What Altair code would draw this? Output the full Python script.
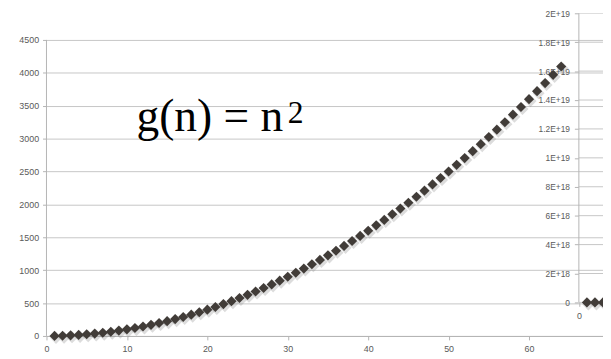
import altair as alt
import pandas as pd

# ---- data ----
N = list(range(1, 65))
G = [1, 4, 9, 16, 25, 36, 49, 64, 81, 100, 121, 144, 169, 196, 225, 256,
     289, 324, 361, 400, 441, 484, 529, 576, 625, 676, 729, 784, 841, 900,
     961, 1024, 1089, 1156, 1225, 1296, 1369, 1444, 1521, 1600, 1681, 1764,
     1849, 1936, 2025, 2116, 2209, 2304, 2401, 2500, 2601, 2704, 2809, 2916,
     3025, 3136, 3249, 3364, 3481, 3600, 3721, 3844, 3969, 4096]
RIGHT_N = [1, 2, 3, 4, 5, 6, 7, 8]
RIGHT_F = [2, 4, 8, 16, 32, 64, 128, 256]

X_TICKS = [0, 10, 20, 30, 40, 50, 60]
LEFT_Y_TICKS = [0, 500, 1000, 1500, 2000, 2500, 3000, 3500, 4000, 4500]
RIGHT_Y_TICKS = [0, 2e18, 4e18, 6e18, 8e18, 1e19, 1.2e19, 1.4e19, 1.6e19, 1.8e19, 2e19]
RIGHT_Y_LABELS = ['0', '2E+18', '4E+18', '6E+18', '8E+18', '1E+19', '1.2E+19',
                  '1.4E+19', '1.6E+19', '1.8E+19', '2E+19']
RIGHT_X_TICKS = [0]
TITLE_MAIN = "g(n) = n"
TITLE_SUP = "2"

# ---- scales ----
LX = alt.Scale(domain=[0, 69.2], nice=False, zero=False)
LY = alt.Scale(domain=[0, 4905], nice=False, zero=False)
RX = alt.Scale(domain=[-66.2, 3.0], nice=False, zero=False)
RY = alt.Scale(domain=[-2.3208e18, 2e19], nice=False, zero=False)

GRID = '#c6c6c6'
AXC = '#b4b4b4'
LAB = '#5a5a5a'
MARK = '#413c38'

LX_AXIS = alt.Axis(values=X_TICKS, orient='bottom', grid=False, domain=True,
                   title=None, labelFlush=False, labelPadding=5, format='d')
LY_AXIS = alt.Axis(values=LEFT_Y_TICKS, orient='left', grid=True, domain=False,
                   title=None, labelPadding=4, format='d')

label_arr = "[" + ",".join("'%s'" % s for s in RIGHT_Y_LABELS) + "]"
RY_AXIS = alt.Axis(values=RIGHT_Y_TICKS, orient='left', offset=-539, grid=False,
                   domain=False, title=None, labelPadding=5, labelFontSize=8.5,
                   labelExpr=label_arr + "[round(datum.value/2e18)]")
RX_AXIS = alt.Axis(values=RIGHT_X_TICKS, orient='bottom', offset=-34, grid=False,
                   domain=False, title=None, labelPadding=5, labelFlush=False,
                   format='d')

left_df = pd.DataFrame({'n': N, 'g': G})
right_df = pd.DataFrame({'n': RIGHT_N, 'f': [float(v) for v in RIGHT_F]})

# ---- left chart ----
lx = alt.X('n:Q', scale=LX, axis=LX_AXIS)
ly = alt.Y('g:Q', scale=LY, axis=LY_AXIS)

left_shadow = alt.Chart(left_df).mark_point(
    shape='diamond', filled=True, size=150, color='#8c8c8c', opacity=0.3,
    xOffset=1.5, yOffset=2, strokeWidth=0
).encode(x=lx, y=ly)

left_pts = alt.Chart(left_df).mark_point(
    shape='diamond', filled=True, size=105, color=MARK, opacity=1, strokeWidth=0
).encode(x=lx, y=ly)

axis_line_df = pd.DataFrame({'n': [0], 'g': [LEFT_Y_TICKS[0]], 'g2': [LEFT_Y_TICKS[-1]]})
left_axis_line = alt.Chart(axis_line_df).mark_rule(color=AXC, strokeWidth=1).encode(
    x=alt.X('n:Q', scale=LX, axis=LX_AXIS),
    y=alt.Y('g:Q', scale=LY, axis=LY_AXIS),
    y2='g2:Q'
)

title_df = pd.DataFrame({'n': [11.2], 'g': [3110], 't': [TITLE_MAIN]})
sup_df = pd.DataFrame({'n': [30.0], 'g': [3230], 't': [TITLE_SUP]})
title_main = alt.Chart(title_df).mark_text(
    font='Liberation Serif', fontSize=46, align='left', baseline='alphabetic', color='black'
).encode(x=lx, y=ly, text='t:N')
title_sup = alt.Chart(sup_df).mark_text(
    font='Liberation Serif', fontSize=32, align='left', baseline='alphabetic', color='black'
).encode(x=lx, y=ly, text='t:N')

left = alt.layer(left_axis_line, left_shadow, left_pts, title_main, title_sup)

# ---- right (cropped) chart ----
rx = alt.X('n:Q', scale=RX, axis=RX_AXIS)
ry = alt.Y('f:Q', scale=RY, axis=RY_AXIS)

rgrid_df = pd.DataFrame({'f': RIGHT_Y_TICKS, 'n': [0] * len(RIGHT_Y_TICKS),
                         'n2': [RX.domain[1] + 5] * len(RIGHT_Y_TICKS)})
right_grid = alt.Chart(rgrid_df).mark_rule(color=GRID, strokeWidth=1, clip=True).encode(
    x=rx, x2='n2:Q', y=ry
)
raxis_df = pd.DataFrame({'n': [0], 'f': [RIGHT_Y_TICKS[0]], 'f2': [RIGHT_Y_TICKS[-1]]})
right_axis_line = alt.Chart(raxis_df).mark_rule(color=AXC, strokeWidth=1).encode(
    x=rx, y=ry, y2='f2:Q'
)
right_shadow = alt.Chart(right_df).mark_point(
    shape='diamond', filled=True, size=150, color='#8c8c8c', opacity=0.3,
    xOffset=1.5, yOffset=2, strokeWidth=0, clip=True
).encode(x=rx, y=ry)
right_pts = alt.Chart(right_df).mark_point(
    shape='diamond', filled=True, size=105, color=MARK, opacity=1, strokeWidth=0, clip=True
).encode(x=rx, y=ry)

right = alt.layer(right_grid, right_axis_line, right_shadow, right_pts)

chart = alt.layer(left, right).resolve_scale(
    x='independent', y='independent'
).properties(
    width=564, height=327, autosize='none',
    padding={'left': 39, 'top': 3, 'right': 0, 'bottom': 21}
).configure_axis(
    labelFont='Liberation Sans', labelFontSize=9, labelColor=LAB,
    tickColor=AXC, tickSize=4, domainColor=AXC, gridColor=GRID, gridWidth=1
).configure_view(strokeWidth=0)

chart.save("out.html", embed_options={"renderer": "svg", "actions": False})
